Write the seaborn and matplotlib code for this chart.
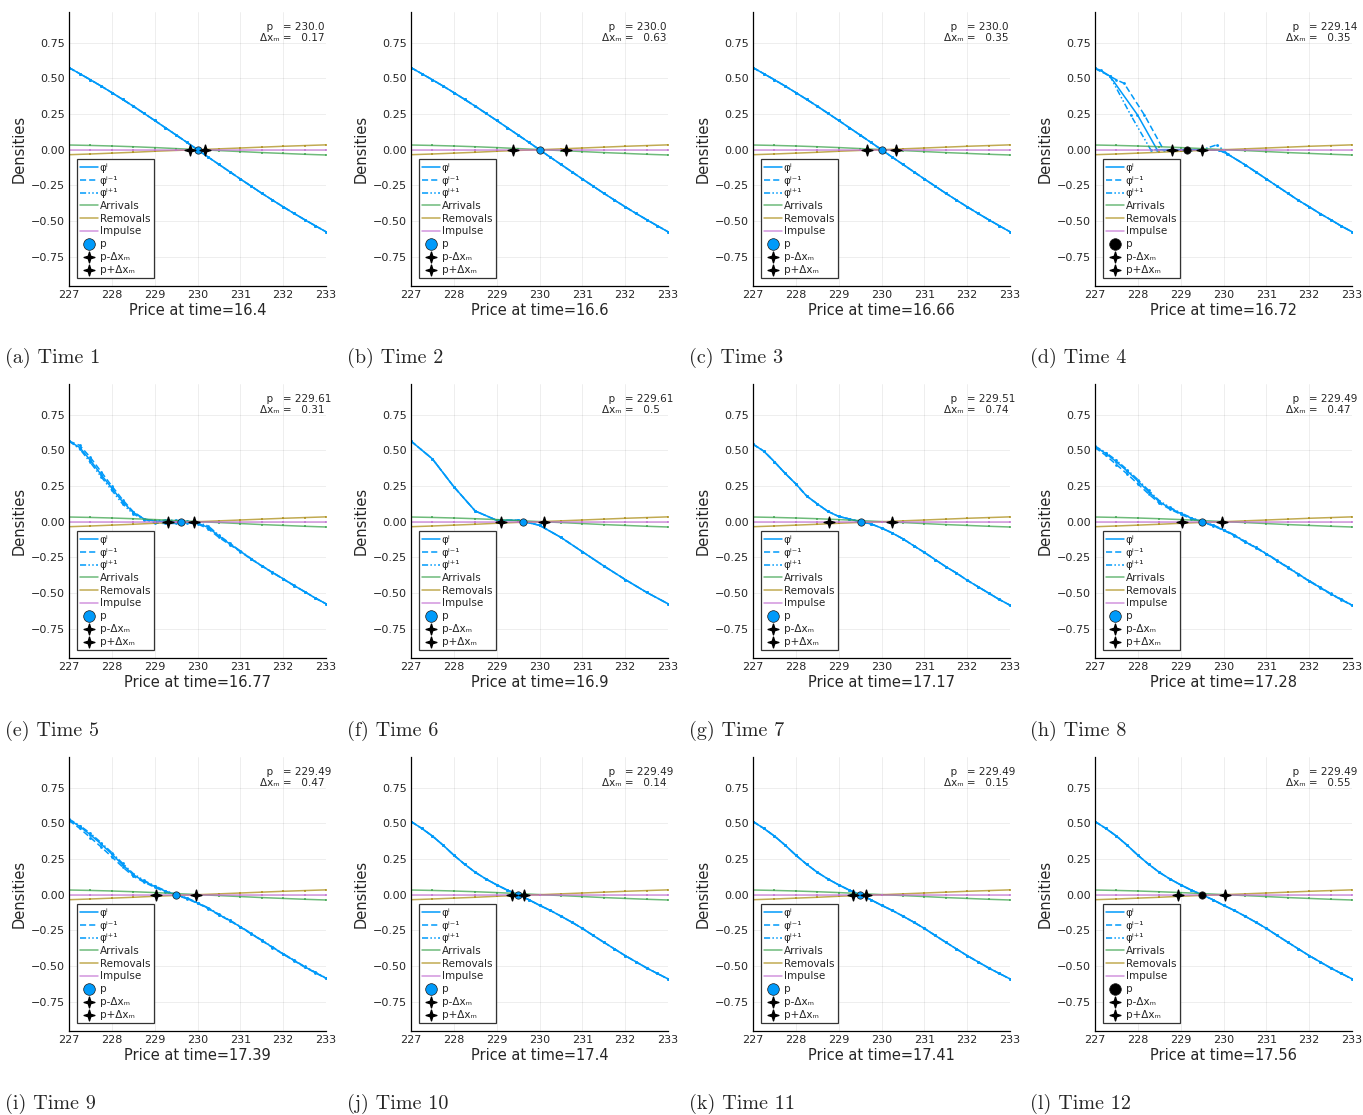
# plot.py
# price-density snapshots around the crossing point, 12 time steps

import numpy as np
import matplotlib
matplotlib.use("Agg")
import matplotlib.pyplot as plt
from matplotlib.path import Path
import seaborn as sns

sns.set_style("white")
plt.rcParams["font.family"] = ["DejaVu Sans", "Noto Sans"]
plt.rcParams["axes.unicode_minus"] = True

BLUE = "#009AFA"
GREEN = "#3EA44E"
GOLD = "#AC8E18"
PINK = "#C371D2"

# price grids the densities are sampled on
price_fine = [227.0, 227.25, 227.5, 227.75, 228.0, 228.25, 228.5, 228.75, 229.0,
              229.25, 229.5, 229.75, 230.0, 230.25, 230.5, 230.75, 231.0, 231.25,
              231.5, 231.75, 232.0, 232.25, 232.5, 232.75, 233.0]
price_half = [227.0, 227.5, 228.0, 228.5, 229.0, 229.5, 230.0, 230.5, 231.0,
              231.5, 232.0, 232.5, 233.0]

# source terms (same in every panel)
arrivals = [0.033, 0.030, 0.026, 0.021, 0.015, 0.008, 0.001, -0.006, -0.013,
            -0.020, -0.026, -0.032, -0.037]
removals = [-0.035, -0.030, -0.024, -0.018, -0.011, -0.005, 0.0, 0.006, 0.012,
            0.018, 0.024, 0.029, 0.034]
impulse = [0.0] * 13

# phi curves
phi_abc = [0.575, 0.533, 0.490, 0.446, 0.400, 0.353, 0.305, 0.255, 0.205, 0.154,
           0.103, 0.052, 0.0, -0.052, -0.103, -0.154, -0.205, -0.255, -0.305,
           -0.353, -0.400, -0.446, -0.490, -0.533, -0.575]

d_x_cur = [227.0, 227.13, 227.35, 227.99, 228.45, 228.75, 229.0, 229.5, 229.9,
           230.09, 230.5, 230.75, 231.0, 231.25, 231.5, 231.75, 232.0, 232.25,
           232.5, 232.75, 233.0]
d_cur = [0.57, 0.557, 0.515, 0.245, 0.0, 0.0, 0.0, 0.0, -0.003, -0.03, -0.105,
         -0.155, -0.205, -0.255, -0.305, -0.355, -0.40, -0.447, -0.49, -0.535, -0.575]
d_x_prev = [227.0, 227.35, 227.5, 227.68, 228.15, 228.6, 229.0, 229.5, 229.9,
            230.09, 230.5, 230.75, 231.0, 231.25, 231.5, 231.75, 232.0, 232.25,
            232.5, 232.75, 233.0]
d_prev = [0.57, 0.515, 0.49, 0.465, 0.245, 0.0, 0.0, 0.0, -0.003, -0.03, -0.105,
          -0.155, -0.205, -0.255, -0.305, -0.355, -0.40, -0.447, -0.49, -0.535, -0.575]
d_x_next = [227.0, 227.35, 227.83, 228.3, 228.75, 229.25, 229.5, 229.85, 230.1,
            230.5, 230.75, 231.0, 231.25, 231.5, 231.75, 232.0, 232.25, 232.5,
            232.75, 233.0]
d_next = [0.57, 0.515, 0.245, 0.0, 0.0, 0.0, 0.0, 0.035, -0.03, -0.105, -0.155,
          -0.205, -0.255, -0.305, -0.355, -0.40, -0.447, -0.49, -0.535, -0.575]

e_cur = [0.565, 0.52, 0.43, 0.33, 0.235, 0.14, 0.065, 0.02, 0.005, 0.002, 0.0, 0.0,
         -0.01, -0.04, -0.10, -0.155, -0.207, -0.26, -0.31, -0.355, -0.40, -0.447,
         -0.49, -0.535, -0.575]
e_prev = [0.565, 0.535, 0.45, 0.35, 0.25, 0.155, 0.07, 0.02, -0.01, -0.012, -0.012,
          -0.008, -0.015, -0.05, -0.11, -0.16, -0.21, -0.262, -0.31, -0.357, -0.402,
          -0.447, -0.49, -0.535, -0.575]
e_next = [0.565, 0.51, 0.415, 0.315, 0.22, 0.125, 0.055, 0.015, 0.008, 0.01, 0.01,
          0.005, -0.005, -0.03, -0.095, -0.15, -0.205, -0.258, -0.308, -0.355, -0.40,
          -0.446, -0.49, -0.535, -0.575]

f_cur = [0.565, 0.44, 0.245, 0.075, 0.01, 0.01, -0.025, -0.11, -0.21, -0.31, -0.405,
         -0.495, -0.575]

g_cur = [0.543, 0.495, 0.42, 0.339, 0.265, 0.181, 0.125, 0.072, 0.037, 0.019, 0.0,
         -0.015, -0.044, -0.079, -0.12, -0.168, -0.215, -0.265, -0.315, -0.36, -0.41,
         -0.455, -0.50, -0.545, -0.585]

h_cur = [0.527, 0.478, 0.42, 0.355, 0.285, 0.21, 0.14, 0.095, 0.058, 0.025, 0.0,
         -0.025, -0.058, -0.095, -0.14, -0.18, -0.225, -0.272, -0.32, -0.368, -0.415,
         -0.46, -0.505, -0.545, -0.585]
h_prev = [0.52, 0.465, 0.40, 0.335, 0.265, 0.195, 0.13, 0.088, 0.052, 0.02, -0.003,
          -0.028, -0.06, -0.098, -0.142, -0.182, -0.227, -0.274, -0.322, -0.37, -0.417,
          -0.462, -0.507, -0.547, -0.587]
h_next = [0.53, 0.485, 0.43, 0.365, 0.295, 0.22, 0.148, 0.1, 0.062, 0.028, 0.002,
          -0.022, -0.055, -0.092, -0.137, -0.178, -0.223, -0.27, -0.318, -0.366, -0.413,
          -0.458, -0.503, -0.543, -0.583]

phi_late = [0.513, 0.465, 0.411, 0.347, 0.277, 0.214, 0.157, 0.11, 0.069, 0.032, 0.0,
            -0.035, -0.074, -0.11, -0.15, -0.192, -0.236, -0.285, -0.333, -0.38,
            -0.427, -0.47, -0.513, -0.552, -0.59]

# per-panel info
letters = list("abcdefghijkl")
times = ["16.4", "16.6", "16.66", "16.72", "16.77", "16.9",
         "17.17", "17.28", "17.39", "17.4", "17.41", "17.56"]
p_text = ["230.0", "230.0", "230.0", "229.14", "229.61", "229.61",
          "229.51", "229.49", "229.49", "229.49", "229.49", "229.49"]
dx_text = ["0.17", "0.63", "0.35", "0.35", "0.31", "0.5",
           "0.74", "0.47", "0.47", "0.14", "0.15", "0.55"]
p_colors = [BLUE, BLUE, BLUE, "black", BLUE, BLUE,
            BLUE, BLUE, BLUE, BLUE, BLUE, "black"]

# (x, cur), (x, prev), (x, next)
phis = [
    ((price_fine, phi_abc), (price_fine, phi_abc), (price_fine, phi_abc)),
    ((price_fine, phi_abc), (price_fine, phi_abc), (price_fine, phi_abc)),
    ((price_fine, phi_abc), (price_fine, phi_abc), (price_fine, phi_abc)),
    ((d_x_cur, d_cur), (d_x_prev, d_prev), (d_x_next, d_next)),
    ((price_fine, e_cur), (price_fine, e_prev), (price_fine, e_next)),
    ((price_half, f_cur), (price_half, f_cur), (price_half, f_cur)),
    ((price_fine, g_cur), (price_fine, g_cur), (price_fine, g_cur)),
    ((price_fine, h_cur), (price_fine, h_prev), (price_fine, h_next)),
    ((price_fine, h_cur), (price_fine, h_prev), (price_fine, h_next)),
    ((price_fine, phi_late), (price_fine, phi_late), (price_fine, phi_late)),
    ((price_fine, phi_late), (price_fine, phi_late), (price_fine, phi_late)),
    ((price_fine, phi_late), (price_fine, phi_late), (price_fine, phi_late)),
]

W, H = 1363, 1115
col_left = [69, 411, 753, 1095]
row_top = [12, 384, 757]
ax_w, ax_h = 257, 274
cap_y = [358, 731, 1104]
cap_x = [5, 347, 689, 1030]

phi_styles = [
    ("φⁱ", "-"),
    ("φⁱ⁻¹", (0, (4, 2))),
    ("φⁱ⁺¹", (0, (4, 1.5, 1, 1.5, 1, 1.5))),
]

star4 = Path.unit_regular_star(4, innerCircle=0.32)

fig = plt.figure(figsize=(W / 100, H / 100), dpi=100)

for k in range(12):
    r, c = divmod(k, 4)
    ax = fig.add_axes([col_left[c] / W, 1 - (row_top[r] + ax_h) / H,
                       ax_w / W, ax_h / H])

    for (xs, ys), (lab, ls) in zip(phis[k], phi_styles):
        sns.lineplot(x=xs, y=ys, ax=ax, color=BLUE, lw=1.1, linestyle=ls,
                     marker="o", markersize=2, markeredgewidth=0,
                     sort=False, estimator=None, label=lab)

    for ys, col, lab in [(arrivals, GREEN, "Arrivals"),
                         (removals, GOLD, "Removals"),
                         (impulse, PINK, "Impulse")]:
        sns.lineplot(x=price_half, y=ys, ax=ax, color=col, lw=1.1, alpha=0.75,
                     marker="s", markersize=2, markeredgewidth=0,
                     sort=False, estimator=None, label=lab)

    p = float(p_text[k])
    dx = float(dx_text[k])
    ax.scatter([p], [0], s=28, color=p_colors[k], edgecolor="#1a1a1a",
               linewidth=0.5, zorder=5, label="p")
    ax.scatter([p - dx], [0], s=60, marker=star4, color="black",
               zorder=5, label="p-Δxₘ")
    ax.scatter([p + dx], [0], s=60, marker=star4, color="black",
               zorder=5, label="p+Δxₘ")

    ax.text(1 - 66 / ax_w, 0.965, f"  p   = {p_text[k]}\nΔxₘ =   {dx_text[k]}",
            transform=ax.transAxes, ha="left", va="top", fontsize=7.5,
            linespacing=1.15)

    ax.set_xlim(227, 233)
    ax.set_ylim(-0.955, 0.965)
    ax.set_xticks([227, 228, 229, 230, 231, 232, 233])
    ax.set_yticks([-0.75, -0.5, -0.25, 0.0, 0.25, 0.5, 0.75])
    ax.set_yticklabels(["−0.75", "−0.50", "−0.25", "0.00", "0.25", "0.50", "0.75"])
    ax.tick_params(labelsize=8, length=0, pad=3)
    ax.grid(True, color="black", alpha=0.08, lw=0.6)
    sns.despine(ax=ax)
    for s in ["left", "bottom"]:
        ax.spines[s].set_color("black")
        ax.spines[s].set_linewidth(0.9)

    ax.set_xlabel(f"Price at time={times[k]}", fontsize=10.5, labelpad=2)
    ax.set_ylabel("Densities", fontsize=10.5, labelpad=3)

    handles, labels = ax.get_legend_handles_labels()
    leg = ax.legend(handles, labels, loc="lower left", fontsize=7.5,
                    frameon=True, fancybox=False, framealpha=1,
                    borderaxespad=0.75, borderpad=0.35, labelspacing=0.26,
                    handlelength=1.7, handletextpad=0.15)
    leg.get_frame().set_edgecolor("#333333")
    leg.get_frame().set_linewidth(0.9)
    for ln in leg.get_lines():
        ln.set_marker("")
    lh = leg.legend_handles
    lh[6].set_sizes([70])
    lh[7].set_sizes([60])
    lh[8].set_sizes([60])

    fig.text(cap_x[c] / W, 1 - cap_y[r] / H, f"({letters[k]}) Time {k + 1}",
             fontfamily="cmr10", fontsize=14.5, va="center", ha="left")

fig.savefig("out.png", dpi=100)
